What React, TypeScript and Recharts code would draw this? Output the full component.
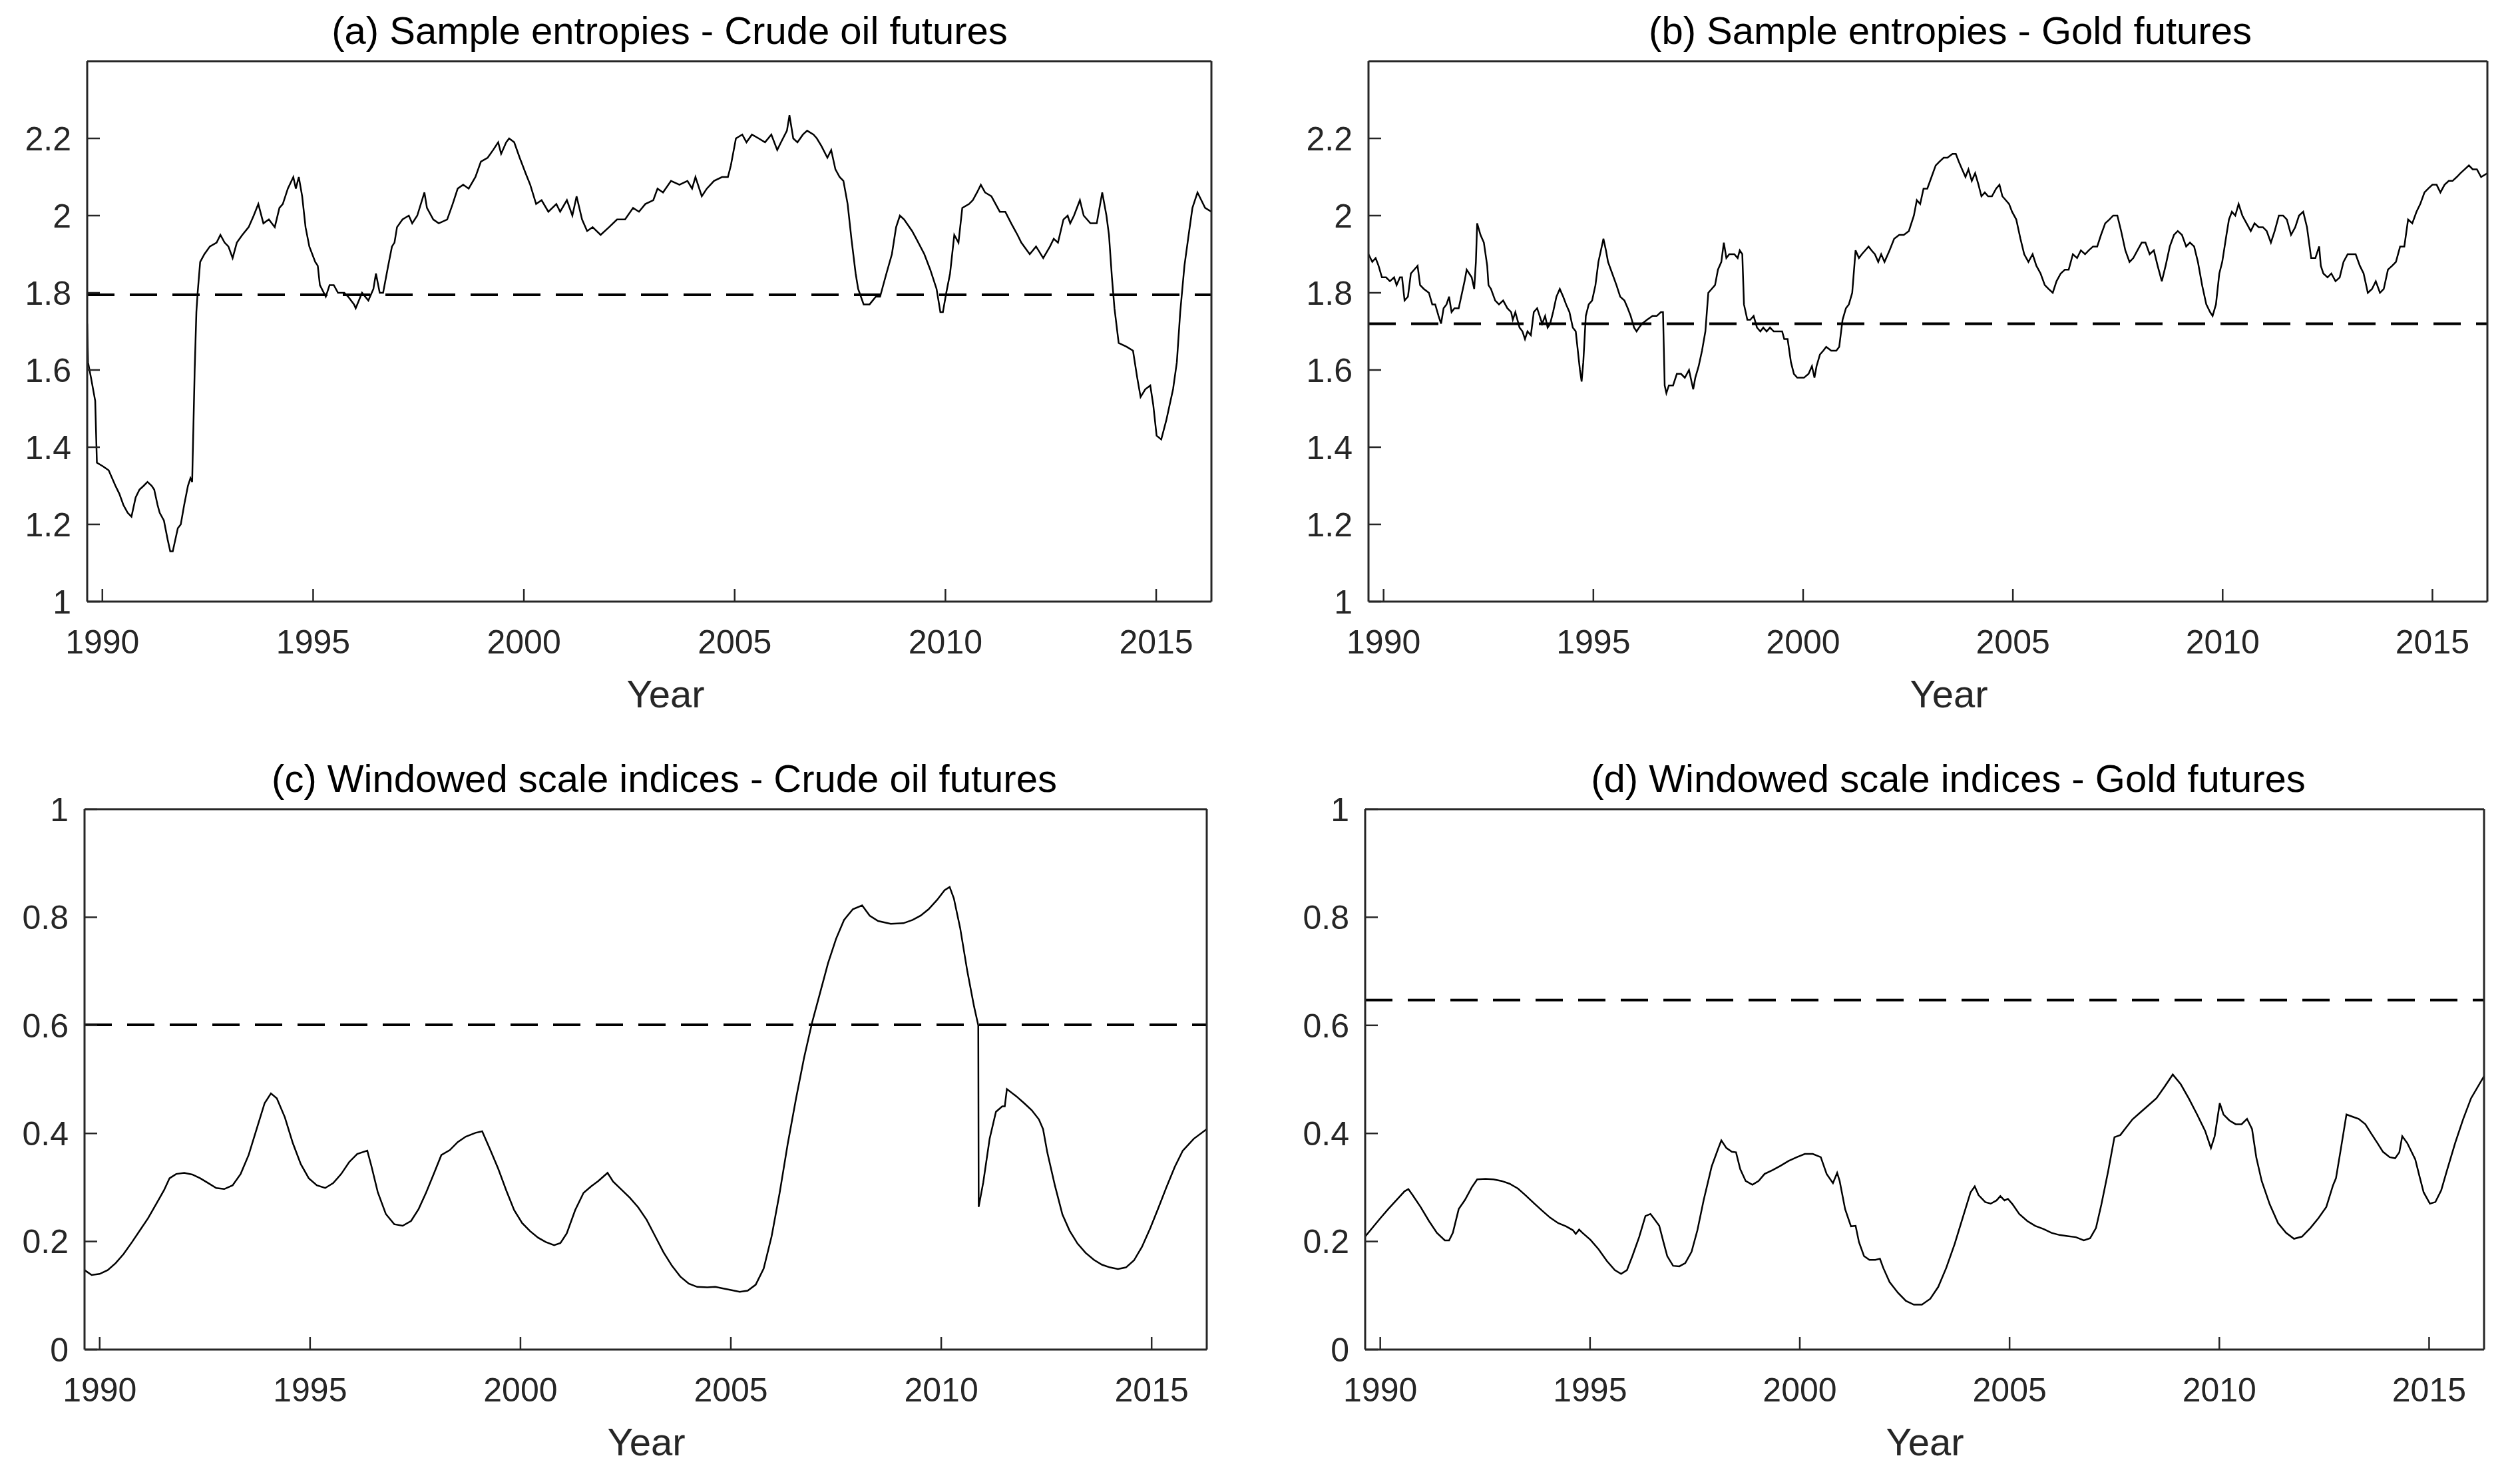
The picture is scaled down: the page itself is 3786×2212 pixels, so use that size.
import React from 'react';
import { LineChart, Line, XAxis, YAxis, ReferenceLine } from 'recharts';

const yearTicks = [1990, 1995, 2000, 2005, 2010, 2015];
const entropyTicks = [1, 1.2, 1.4, 1.6, 1.8, 2, 2.2];
const scaleTicks = [0, 0.2, 0.4, 0.6, 0.8, 1];
const yearRange: [number, number] = [1989.64, 2016.31];

const panelTitles = [
  '(a) Sample entropies - Crude oil futures',
  '(b) Sample entropies - Gold futures',
  '(c) Windowed scale indices - Crude oil futures',
  '(d) Windowed scale indices - Gold futures',
];
const axisLabel = 'Year';

// dashed reference levels, one per panel (a..d)
const meanLevels = [1.795, 1.72, 0.601, 0.647];

const oilEntropy: [number, number][] = [
  [1989.64, 1.72], [1989.66, 1.62], [1989.73, 1.58], [1989.83, 1.52], [1989.87, 1.36], [1990.02, 1.35], [1990.15, 1.34],
  [1990.31, 1.3], [1990.4, 1.28], [1990.5, 1.25], [1990.6, 1.23], [1990.69, 1.22], [1990.79, 1.27], [1990.88, 1.29],
  [1990.98, 1.3], [1991.07, 1.31], [1991.17, 1.3], [1991.23, 1.29], [1991.31, 1.25], [1991.36, 1.23], [1991.46, 1.21],
  [1991.55, 1.16], [1991.61, 1.13], [1991.67, 1.13], [1991.79, 1.19], [1991.86, 1.2], [1991.94, 1.25], [1992.03, 1.3],
  [1992.09, 1.32], [1992.13, 1.31], [1992.19, 1.6], [1992.23, 1.75], [1992.26, 1.8], [1992.32, 1.88], [1992.42, 1.9],
  [1992.55, 1.92], [1992.71, 1.93], [1992.8, 1.95], [1992.9, 1.93], [1992.99, 1.92], [1993.09, 1.89], [1993.19, 1.93],
  [1993.32, 1.95], [1993.47, 1.97], [1993.59, 2.0], [1993.7, 2.03], [1993.82, 1.98], [1993.95, 1.99], [1994.09, 1.97],
  [1994.2, 2.02], [1994.28, 2.03], [1994.4, 2.07], [1994.53, 2.1], [1994.59, 2.07], [1994.66, 2.1], [1994.74, 2.05],
  [1994.82, 1.97], [1994.91, 1.92], [1995.05, 1.88], [1995.11, 1.87], [1995.16, 1.82], [1995.3, 1.79], [1995.39, 1.82],
  [1995.49, 1.82], [1995.59, 1.8], [1995.74, 1.8], [1995.83, 1.79], [1995.97, 1.77], [1996.01, 1.76], [1996.16, 1.8],
  [1996.31, 1.78], [1996.43, 1.81], [1996.49, 1.85], [1996.58, 1.8], [1996.66, 1.8], [1996.78, 1.87], [1996.87, 1.92],
  [1996.93, 1.93], [1996.99, 1.97], [1997.12, 1.99], [1997.27, 2.0], [1997.35, 1.98], [1997.47, 2.0], [1997.64, 2.06],
  [1997.7, 2.02], [1997.85, 1.99], [1997.98, 1.98], [1998.18, 1.99], [1998.31, 2.03], [1998.43, 2.07], [1998.56, 2.08],
  [1998.69, 2.07], [1998.85, 2.1], [1998.98, 2.14], [1999.14, 2.15], [1999.27, 2.17], [1999.39, 2.19], [1999.46, 2.16],
  [1999.58, 2.19], [1999.65, 2.2], [1999.77, 2.19], [1999.9, 2.15], [2000.04, 2.11], [2000.15, 2.08], [2000.29, 2.03],
  [2000.42, 2.04], [2000.58, 2.01], [2000.77, 2.03], [2000.86, 2.01], [2001.02, 2.04], [2001.15, 2.0], [2001.25, 2.05],
  [2001.38, 1.99], [2001.5, 1.96], [2001.63, 1.97], [2001.82, 1.95], [2002.02, 1.97], [2002.21, 1.99], [2002.4, 1.99],
  [2002.59, 2.02], [2002.73, 2.01], [2002.88, 2.03], [2003.07, 2.04], [2003.17, 2.07], [2003.3, 2.06], [2003.49, 2.09],
  [2003.69, 2.08], [2003.88, 2.09], [2003.99, 2.07], [2004.07, 2.1], [2004.22, 2.05], [2004.34, 2.07], [2004.51, 2.09],
  [2004.7, 2.1], [2004.84, 2.1], [2004.91, 2.13], [2005.03, 2.2], [2005.18, 2.21], [2005.28, 2.19], [2005.41, 2.21],
  [2005.57, 2.2], [2005.72, 2.19], [2005.87, 2.21], [2006.01, 2.17], [2006.1, 2.19], [2006.24, 2.22], [2006.3, 2.26],
  [2006.39, 2.2], [2006.49, 2.19], [2006.62, 2.21], [2006.72, 2.22], [2006.87, 2.21], [2006.95, 2.2], [2007.06, 2.18],
  [2007.2, 2.15], [2007.29, 2.17], [2007.39, 2.12], [2007.49, 2.1], [2007.58, 2.09], [2007.68, 2.03], [2007.77, 1.94],
  [2007.87, 1.85], [2007.93, 1.81], [2008.06, 1.77], [2008.2, 1.77], [2008.35, 1.79], [2008.45, 1.79], [2008.6, 1.85],
  [2008.73, 1.9], [2008.83, 1.97], [2008.92, 2.0], [2009.02, 1.99], [2009.21, 1.96], [2009.31, 1.94], [2009.5, 1.9],
  [2009.64, 1.86], [2009.79, 1.81], [2009.88, 1.75], [2009.94, 1.75], [2010.02, 1.8], [2010.11, 1.85], [2010.21, 1.95],
  [2010.31, 1.93], [2010.4, 2.02], [2010.56, 2.03], [2010.65, 2.04], [2010.75, 2.06], [2010.84, 2.08], [2010.94, 2.06],
  [2011.09, 2.05], [2011.29, 2.01], [2011.42, 2.01], [2011.56, 1.98], [2011.71, 1.95], [2011.8, 1.93], [2012.0, 1.9],
  [2012.15, 1.92], [2012.32, 1.89], [2012.48, 1.92], [2012.57, 1.94], [2012.67, 1.93], [2012.8, 1.99], [2012.9, 2.0],
  [2012.96, 1.98], [2013.05, 2.0], [2013.19, 2.04], [2013.28, 2.0], [2013.44, 1.98], [2013.59, 1.98], [2013.72, 2.06],
  [2013.82, 2.0], [2013.88, 1.95], [2013.95, 1.84], [2014.01, 1.76], [2014.11, 1.67], [2014.3, 1.66], [2014.45, 1.65],
  [2014.55, 1.58], [2014.63, 1.53], [2014.74, 1.55], [2014.86, 1.56], [2014.93, 1.51], [2015.01, 1.43], [2015.12, 1.42],
  [2015.24, 1.47], [2015.3, 1.5], [2015.4, 1.55], [2015.49, 1.62], [2015.57, 1.75], [2015.67, 1.87], [2015.77, 1.95],
  [2015.86, 2.02], [2015.98, 2.06], [2016.07, 2.04], [2016.16, 2.02], [2016.31, 2.01],
];

const goldEntropy: [number, number][] = [
  [1989.64, 1.9], [1989.73, 1.88], [1989.81, 1.89], [1989.88, 1.87], [1989.96, 1.84], [1990.06, 1.84], [1990.15, 1.83],
  [1990.25, 1.84], [1990.31, 1.82], [1990.39, 1.84], [1990.44, 1.84], [1990.5, 1.78], [1990.58, 1.79], [1990.65, 1.85],
  [1990.73, 1.86], [1990.81, 1.87], [1990.87, 1.82], [1990.96, 1.81], [1991.08, 1.8], [1991.16, 1.77], [1991.23, 1.77],
  [1991.31, 1.74], [1991.37, 1.72], [1991.43, 1.76], [1991.5, 1.77], [1991.56, 1.79], [1991.62, 1.75], [1991.69, 1.76],
  [1991.79, 1.76], [1991.85, 1.79], [1991.93, 1.83], [1991.98, 1.86], [1992.04, 1.85], [1992.1, 1.84], [1992.16, 1.81],
  [1992.2, 1.88], [1992.23, 1.98], [1992.31, 1.95], [1992.39, 1.93], [1992.47, 1.87], [1992.5, 1.82], [1992.56, 1.81],
  [1992.66, 1.78], [1992.75, 1.77], [1992.85, 1.78], [1992.95, 1.76], [1993.04, 1.75], [1993.08, 1.73], [1993.14, 1.75],
  [1993.24, 1.71], [1993.31, 1.7], [1993.37, 1.68], [1993.43, 1.7], [1993.51, 1.69], [1993.58, 1.75], [1993.66, 1.76],
  [1993.72, 1.74], [1993.78, 1.72], [1993.85, 1.74], [1993.91, 1.71], [1993.97, 1.72], [1994.04, 1.75], [1994.12, 1.79],
  [1994.2, 1.81], [1994.28, 1.79], [1994.35, 1.77], [1994.43, 1.75], [1994.51, 1.71], [1994.58, 1.7], [1994.64, 1.64],
  [1994.68, 1.6], [1994.72, 1.57], [1994.76, 1.62], [1994.82, 1.74], [1994.89, 1.77], [1994.97, 1.78], [1995.05, 1.82],
  [1995.12, 1.88], [1995.2, 1.92], [1995.24, 1.94], [1995.3, 1.91], [1995.35, 1.88], [1995.45, 1.85], [1995.55, 1.82],
  [1995.64, 1.79], [1995.74, 1.78], [1995.82, 1.76], [1995.89, 1.74], [1995.97, 1.71], [1996.03, 1.7], [1996.09, 1.71],
  [1996.16, 1.72], [1996.28, 1.73], [1996.41, 1.74], [1996.51, 1.74], [1996.61, 1.75], [1996.66, 1.75], [1996.7, 1.56],
  [1996.74, 1.54], [1996.8, 1.56], [1996.9, 1.56], [1996.99, 1.59], [1997.09, 1.59], [1997.18, 1.58], [1997.28, 1.6],
  [1997.38, 1.55], [1997.43, 1.58], [1997.51, 1.61], [1997.59, 1.65], [1997.67, 1.7], [1997.74, 1.8], [1997.82, 1.81],
  [1997.9, 1.82], [1997.97, 1.86], [1998.05, 1.88], [1998.11, 1.93], [1998.17, 1.89], [1998.24, 1.9], [1998.36, 1.9],
  [1998.44, 1.89], [1998.49, 1.91], [1998.55, 1.9], [1998.59, 1.77], [1998.67, 1.73], [1998.74, 1.73], [1998.82, 1.74],
  [1998.9, 1.71], [1998.98, 1.7], [1999.05, 1.71], [1999.13, 1.7], [1999.21, 1.71], [1999.3, 1.7], [1999.4, 1.7],
  [1999.5, 1.7], [1999.55, 1.68], [1999.63, 1.68], [1999.71, 1.62], [1999.78, 1.59], [1999.86, 1.58], [1999.94, 1.58],
  [2000.02, 1.58], [2000.13, 1.59], [2000.21, 1.61], [2000.27, 1.58], [2000.32, 1.61], [2000.4, 1.64], [2000.48, 1.65],
  [2000.55, 1.66], [2000.67, 1.65], [2000.79, 1.65], [2000.86, 1.66], [2000.94, 1.73], [2001.02, 1.76], [2001.09, 1.77],
  [2001.17, 1.8], [2001.25, 1.91], [2001.33, 1.89], [2001.4, 1.9], [2001.48, 1.91], [2001.56, 1.92], [2001.63, 1.91],
  [2001.71, 1.9], [2001.79, 1.88], [2001.86, 1.9], [2001.94, 1.88], [2002.06, 1.91], [2002.17, 1.94], [2002.29, 1.95],
  [2002.4, 1.95], [2002.52, 1.96], [2002.64, 2.0], [2002.71, 2.04], [2002.79, 2.03], [2002.87, 2.07], [2002.96, 2.07],
  [2003.06, 2.1], [2003.16, 2.13], [2003.25, 2.14], [2003.35, 2.15], [2003.44, 2.15], [2003.56, 2.16], [2003.64, 2.16],
  [2003.71, 2.14], [2003.79, 2.12], [2003.87, 2.1], [2003.94, 2.12], [2004.02, 2.09], [2004.1, 2.11], [2004.18, 2.08],
  [2004.25, 2.05], [2004.33, 2.06], [2004.41, 2.05], [2004.5, 2.05], [2004.6, 2.07], [2004.68, 2.08], [2004.75, 2.05],
  [2004.83, 2.04], [2004.91, 2.03], [2004.98, 2.01], [2005.08, 1.99], [2005.18, 1.94], [2005.27, 1.9], [2005.37, 1.88],
  [2005.47, 1.9], [2005.56, 1.87], [2005.66, 1.85], [2005.76, 1.82], [2005.85, 1.81], [2005.95, 1.8], [2006.04, 1.83],
  [2006.14, 1.85], [2006.24, 1.86], [2006.33, 1.86], [2006.43, 1.9], [2006.53, 1.89], [2006.62, 1.91], [2006.72, 1.9],
  [2006.81, 1.91], [2006.91, 1.92], [2007.01, 1.92], [2007.1, 1.95], [2007.2, 1.98], [2007.3, 1.99], [2007.39, 2.0],
  [2007.49, 2.0], [2007.58, 1.96], [2007.68, 1.91], [2007.78, 1.88], [2007.87, 1.89], [2007.97, 1.91], [2008.07, 1.93],
  [2008.16, 1.93], [2008.26, 1.9], [2008.36, 1.91], [2008.45, 1.87], [2008.55, 1.83], [2008.64, 1.87], [2008.74, 1.92],
  [2008.84, 1.95], [2008.93, 1.96], [2009.03, 1.95], [2009.13, 1.92], [2009.22, 1.93], [2009.32, 1.92], [2009.41, 1.88],
  [2009.51, 1.82], [2009.61, 1.77], [2009.7, 1.75], [2009.76, 1.74], [2009.84, 1.77], [2009.92, 1.85], [2009.99, 1.88],
  [2010.09, 1.95], [2010.15, 1.99], [2010.22, 2.01], [2010.3, 2.0], [2010.38, 2.03], [2010.47, 2.0], [2010.57, 1.98],
  [2010.67, 1.96], [2010.76, 1.98], [2010.86, 1.97], [2010.96, 1.97], [2011.05, 1.96], [2011.15, 1.93], [2011.24, 1.96],
  [2011.34, 2.0], [2011.44, 2.0], [2011.53, 1.99], [2011.63, 1.95], [2011.73, 1.97], [2011.82, 2.0], [2011.92, 2.01],
  [2012.01, 1.97], [2012.11, 1.89], [2012.21, 1.89], [2012.3, 1.92], [2012.34, 1.87], [2012.4, 1.85], [2012.5, 1.84],
  [2012.59, 1.85], [2012.69, 1.83], [2012.79, 1.84], [2012.88, 1.88], [2012.98, 1.9], [2013.07, 1.9], [2013.17, 1.9],
  [2013.27, 1.87], [2013.36, 1.85], [2013.46, 1.8], [2013.56, 1.81], [2013.65, 1.83], [2013.75, 1.8], [2013.84, 1.81],
  [2013.94, 1.86], [2014.04, 1.87], [2014.13, 1.88], [2014.23, 1.92], [2014.33, 1.92], [2014.42, 1.99], [2014.52, 1.98],
  [2014.62, 2.01], [2014.71, 2.03], [2014.81, 2.06], [2014.9, 2.07], [2015.0, 2.08], [2015.1, 2.08], [2015.19, 2.06],
  [2015.29, 2.08], [2015.39, 2.09], [2015.48, 2.09], [2015.58, 2.1], [2015.67, 2.11], [2015.77, 2.12], [2015.87, 2.13],
  [2015.96, 2.12], [2016.06, 2.12], [2016.16, 2.1], [2016.31, 2.11],
];

const oilScale: [number, number][] = [
  [1989.64, 0.147], [1989.81, 0.138], [1990.0, 0.14], [1990.19, 0.147], [1990.38, 0.16], [1990.57, 0.177], [1990.77, 0.199],
  [1990.96, 0.221], [1991.15, 0.243], [1991.34, 0.269], [1991.53, 0.295], [1991.66, 0.317], [1991.82, 0.325], [1992.01, 0.327],
  [1992.2, 0.324], [1992.39, 0.317], [1992.58, 0.308], [1992.77, 0.299], [1992.96, 0.297], [1993.16, 0.304], [1993.35, 0.325],
  [1993.54, 0.36], [1993.73, 0.408], [1993.92, 0.456], [1994.07, 0.474], [1994.21, 0.465], [1994.4, 0.43], [1994.59, 0.382],
  [1994.78, 0.343], [1994.97, 0.317], [1995.16, 0.304], [1995.36, 0.299], [1995.55, 0.308], [1995.74, 0.325], [1995.93, 0.347],
  [1996.12, 0.362], [1996.36, 0.368], [1996.46, 0.339], [1996.61, 0.291], [1996.8, 0.251], [1997.0, 0.232], [1997.2, 0.229],
  [1997.4, 0.238], [1997.58, 0.26], [1997.76, 0.291], [1997.94, 0.325], [1998.12, 0.36], [1998.32, 0.369], [1998.51, 0.384],
  [1998.7, 0.394], [1998.93, 0.401], [1999.09, 0.404], [1999.28, 0.37], [1999.47, 0.335], [1999.66, 0.295], [1999.85, 0.258],
  [2000.04, 0.234], [2000.23, 0.219], [2000.42, 0.207], [2000.6, 0.199], [2000.8, 0.193], [2000.95, 0.197], [2001.1, 0.215],
  [2001.3, 0.258], [2001.5, 0.29], [2001.68, 0.302], [2001.85, 0.312], [2002.07, 0.327], [2002.2, 0.311], [2002.4, 0.296],
  [2002.6, 0.281], [2002.8, 0.263], [2003.0, 0.24], [2003.2, 0.21], [2003.4, 0.18], [2003.6, 0.155], [2003.8, 0.135],
  [2004.0, 0.122], [2004.2, 0.116], [2004.44, 0.115], [2004.63, 0.116], [2004.82, 0.113], [2005.02, 0.11], [2005.21, 0.107],
  [2005.4, 0.109], [2005.59, 0.12], [2005.78, 0.15], [2005.97, 0.21], [2006.16, 0.29], [2006.35, 0.38], [2006.55, 0.465],
  [2006.74, 0.54], [2006.93, 0.605], [2007.12, 0.66], [2007.31, 0.715], [2007.5, 0.76], [2007.69, 0.795], [2007.9, 0.815],
  [2008.12, 0.822], [2008.3, 0.803], [2008.5, 0.793], [2008.8, 0.788], [2009.1, 0.789], [2009.32, 0.795], [2009.51, 0.803],
  [2009.7, 0.815], [2009.9, 0.832], [2010.08, 0.85], [2010.2, 0.856], [2010.3, 0.835], [2010.45, 0.78], [2010.62, 0.7],
  [2010.78, 0.635], [2010.88, 0.6], [2010.89, 0.264], [2011.0, 0.31], [2011.15, 0.39], [2011.3, 0.44], [2011.45, 0.45],
  [2011.51, 0.45], [2011.56, 0.482], [2011.78, 0.469], [2011.97, 0.456], [2012.15, 0.443], [2012.32, 0.426], [2012.42, 0.408],
  [2012.52, 0.365], [2012.7, 0.304], [2012.88, 0.25], [2013.05, 0.22], [2013.24, 0.196], [2013.43, 0.179], [2013.63, 0.166],
  [2013.82, 0.157], [2014.01, 0.152], [2014.2, 0.149], [2014.39, 0.152], [2014.58, 0.165], [2014.77, 0.19], [2014.97, 0.225],
  [2015.16, 0.262], [2015.35, 0.3], [2015.55, 0.338], [2015.74, 0.368], [2016.0, 0.39], [2016.31, 0.408],
];

const goldScale: [number, number][] = [
  [1989.64, 0.209], [1989.81, 0.225], [1990.0, 0.243], [1990.19, 0.26], [1990.39, 0.277], [1990.58, 0.293], [1990.67, 0.297],
  [1990.77, 0.286], [1990.96, 0.264], [1991.16, 0.238], [1991.35, 0.216], [1991.54, 0.202], [1991.64, 0.202], [1991.73, 0.216],
  [1991.87, 0.26], [1992.02, 0.277], [1992.18, 0.3], [1992.31, 0.315], [1992.51, 0.316], [1992.7, 0.315], [1992.89, 0.312],
  [1993.08, 0.307], [1993.28, 0.298], [1993.47, 0.285], [1993.66, 0.271], [1993.86, 0.257], [1994.05, 0.244], [1994.24, 0.234],
  [1994.43, 0.228], [1994.59, 0.221], [1994.66, 0.214], [1994.74, 0.222], [1994.82, 0.216], [1995.01, 0.203], [1995.2, 0.186],
  [1995.4, 0.164], [1995.59, 0.147], [1995.74, 0.14], [1995.88, 0.147], [1996.01, 0.173], [1996.17, 0.208], [1996.32, 0.247],
  [1996.44, 0.251], [1996.52, 0.243], [1996.65, 0.229], [1996.75, 0.199], [1996.84, 0.173], [1996.98, 0.155], [1997.13, 0.154],
  [1997.27, 0.16], [1997.42, 0.181], [1997.56, 0.221], [1997.71, 0.277], [1997.9, 0.339], [1998.06, 0.373], [1998.13, 0.387],
  [1998.25, 0.373], [1998.38, 0.366], [1998.48, 0.365], [1998.58, 0.334], [1998.71, 0.312], [1998.87, 0.305], [1999.02, 0.312],
  [1999.16, 0.325], [1999.35, 0.332], [1999.54, 0.34], [1999.73, 0.349], [1999.93, 0.356], [2000.12, 0.362], [2000.31, 0.362],
  [2000.5, 0.356], [2000.64, 0.325], [2000.79, 0.308], [2000.89, 0.327], [2000.95, 0.312], [2001.08, 0.26], [2001.22, 0.228],
  [2001.33, 0.229], [2001.41, 0.199], [2001.53, 0.173], [2001.66, 0.166], [2001.8, 0.166], [2001.91, 0.168], [2001.99, 0.151],
  [2002.14, 0.125], [2002.34, 0.105], [2002.53, 0.09], [2002.72, 0.083], [2002.91, 0.083], [2003.11, 0.094], [2003.3, 0.116],
  [2003.49, 0.151], [2003.69, 0.195], [2003.88, 0.243], [2004.07, 0.291], [2004.17, 0.302], [2004.26, 0.286], [2004.42, 0.273],
  [2004.55, 0.27], [2004.69, 0.276], [2004.78, 0.284], [2004.88, 0.276], [2004.96, 0.279], [2005.07, 0.269], [2005.23, 0.251],
  [2005.42, 0.238], [2005.61, 0.229], [2005.81, 0.223], [2006.0, 0.216], [2006.19, 0.212], [2006.38, 0.21], [2006.58, 0.208],
  [2006.77, 0.202], [2006.92, 0.206], [2007.06, 0.225], [2007.19, 0.269], [2007.35, 0.33], [2007.5, 0.393], [2007.64, 0.397],
  [2007.77, 0.41], [2007.93, 0.426], [2008.12, 0.439], [2008.31, 0.452], [2008.5, 0.465], [2008.7, 0.487], [2008.89, 0.509],
  [2009.08, 0.491], [2009.27, 0.465], [2009.47, 0.435], [2009.66, 0.405], [2009.8, 0.373], [2009.89, 0.395], [2010.01, 0.456],
  [2010.1, 0.435], [2010.24, 0.424], [2010.39, 0.417], [2010.53, 0.417], [2010.66, 0.427], [2010.78, 0.408], [2010.88, 0.356],
  [2011.01, 0.312], [2011.2, 0.269], [2011.4, 0.234], [2011.59, 0.216], [2011.78, 0.205], [2011.97, 0.209], [2012.17, 0.225],
  [2012.36, 0.243], [2012.55, 0.264], [2012.71, 0.304], [2012.78, 0.317], [2012.9, 0.373], [2013.03, 0.435], [2013.17, 0.431],
  [2013.32, 0.427], [2013.48, 0.417], [2013.61, 0.401], [2013.77, 0.382], [2013.9, 0.366], [2014.06, 0.356], [2014.19, 0.354],
  [2014.29, 0.365], [2014.36, 0.395], [2014.48, 0.382], [2014.67, 0.352], [2014.77, 0.321], [2014.87, 0.291], [2015.02, 0.27],
  [2015.15, 0.273], [2015.29, 0.295], [2015.42, 0.33], [2015.62, 0.382], [2015.81, 0.426], [2016.0, 0.465], [2016.31, 0.506],
];

const AXIS = '#262626';
const FONT = '"Liberation Sans", Arial, Helvetica, sans-serif';
const PANEL_W = 1893;
const PANEL_H = 1106;
const Y_AXIS_W = 120;
const X_AXIS_H = 120;
// mirrored axes (top / right) need a non-zero box to be drawn at all
const MIRROR = 1;

type Box = { left: number; top: number; right: number; bottom: number };

interface PanelProps {
  series: [number, number][];
  ox: number;
  oy: number;
  box: Box;
  yDomain: [number, number];
  yTicks: number[];
  level: number;
}

const Panel: React.FC<PanelProps> = ({ series, ox, oy, box, yDomain, yTicks, level }) => {
  const rows = series.map(([year, value]) => ({ year, value }));
  const margin = {
    left: box.left - ox - Y_AXIS_W,
    top: box.top - oy - MIRROR,
    right: ox + PANEL_W - box.right - MIRROR,
    bottom: oy + PANEL_H - box.bottom - X_AXIS_H,
  };
  const axisLine = { stroke: AXIS, strokeWidth: 3 };
  const tickLine = { stroke: AXIS, strokeWidth: 2.5 };
  return (
    <div style={{ position: 'absolute', left: ox, top: oy, width: PANEL_W, height: PANEL_H }}>
      <LineChart width={PANEL_W} height={PANEL_H} data={rows} margin={margin}>
        <XAxis
          xAxisId="bottom"
          dataKey="year"
          type="number"
          domain={yearRange}
          ticks={yearTicks}
          interval={0}
          height={X_AXIS_H}
          tickSize={-19}
          tickMargin={61}
          axisLine={axisLine}
          tickLine={tickLine}
          tick={{ fill: AXIS, fontSize: 50, fontFamily: FONT }}
          allowDataOverflow
        />
        <XAxis
          xAxisId="top"
          orientation="top"
          dataKey="year"
          type="number"
          domain={yearRange}
          ticks={yearTicks}
          interval={0}
          height={MIRROR}
          tickSize={-19}
          axisLine={axisLine}
          tickLine={tickLine}
          tick={false}
          allowDataOverflow
        />
        <YAxis
          yAxisId="left"
          type="number"
          domain={yDomain}
          ticks={yTicks}
          interval={0}
          width={Y_AXIS_W}
          tickSize={-19}
          tickMargin={43}
          axisLine={axisLine}
          tickLine={tickLine}
          tick={{ fill: AXIS, fontSize: 50, fontFamily: FONT }}
          allowDataOverflow
        />
        <YAxis
          yAxisId="right"
          orientation="right"
          type="number"
          domain={yDomain}
          ticks={yTicks}
          interval={0}
          width={MIRROR}
          tickSize={-19}
          axisLine={axisLine}
          tickLine={tickLine}
          tick={false}
          allowDataOverflow
        />
        <ReferenceLine
          xAxisId="bottom"
          yAxisId="left"
          y={level}
          stroke="#000"
          strokeWidth={4}
          strokeDasharray="41 23"
        />
        <Line
          xAxisId="bottom"
          yAxisId="left"
          dataKey="value"
          type="linear"
          stroke="#000"
          strokeWidth={2.5}
          dot={false}
          activeDot={false}
          isAnimationActive={false}
        />
      </LineChart>
    </div>
  );
};

// text placement: title / xlabel centres and baselines
const titleSpots = [
  { x: 1006, y: 66 },
  { x: 2930, y: 66 },
  { x: 998, y: 1190 },
  { x: 2927, y: 1190 },
];
const labelSpots = [
  { x: 1000, y: 1063 },
  { x: 2928, y: 1063 },
  { x: 971, y: 2187 },
  { x: 2892, y: 2187 },
];

export default function App() {
  return (
    <div
      style={{
        position: 'absolute',
        left: 0,
        top: 0,
        width: 3786,
        height: 2212,
        background: '#fff',
        fontFamily: FONT,
        overflow: 'hidden',
      }}
    >
      <Panel series={oilEntropy} ox={0} oy={0} box={{ left: 131, top: 92, right: 1820, bottom: 904 }}
        yDomain={[1, 2.4]} yTicks={entropyTicks} level={meanLevels[0]} />
      <Panel series={goldEntropy} ox={1893} oy={0} box={{ left: 2056, top: 92, right: 3737, bottom: 904 }}
        yDomain={[1, 2.4]} yTicks={entropyTicks} level={meanLevels[1]} />
      <Panel series={oilScale} ox={0} oy={1106} box={{ left: 127, top: 1216, right: 1813, bottom: 2028 }}
        yDomain={[0, 1]} yTicks={scaleTicks} level={meanLevels[2]} />
      <Panel series={goldScale} ox={1893} oy={1106} box={{ left: 2051, top: 1216, right: 3732, bottom: 2028 }}
        yDomain={[0, 1]} yTicks={scaleTicks} level={meanLevels[3]} />
      <svg width={3786} height={2212} style={{ position: 'absolute', left: 0, top: 0, pointerEvents: 'none' }}>
        {panelTitles.map((t, i) => (
          <text key={t} x={titleSpots[i].x} y={titleSpots[i].y} textAnchor="middle" fontSize={58} fill="#000" fontFamily={FONT}>
            {t}
          </text>
        ))}
        {labelSpots.map((p, i) => (
          <text key={i} x={p.x} y={p.y} textAnchor="middle" fontSize={58} fill={AXIS} fontFamily={FONT}>
            {axisLabel}
          </text>
        ))}
      </svg>
    </div>
  );
}
